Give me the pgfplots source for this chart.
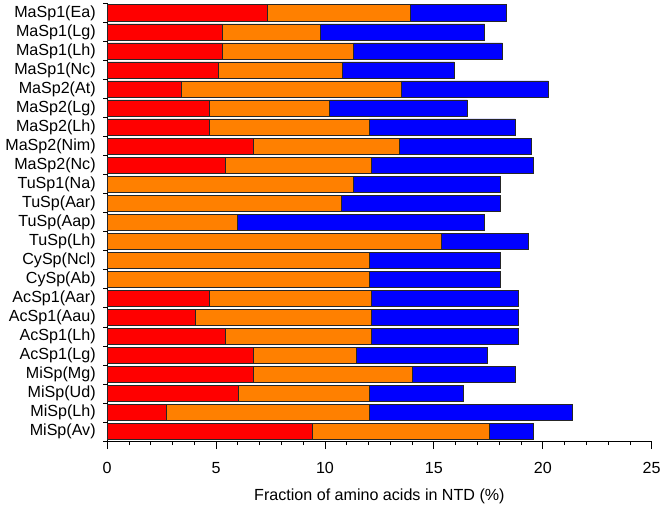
\documentclass[border=0pt]{standalone}
\usepackage{fontspec}
\setmainfont{Liberation Sans}
\usepackage{pgfplots}
\pgfplotsset{compat=1.18}
\usepackage{pgfplotstable}
\definecolor{cred}{HTML}{FF0000}
\definecolor{corange}{HTML}{FF8000}
\definecolor{cblue}{HTML}{0000FF}
\pgfplotstableread{
y r o b
0 9.44 8.09 2.02
1 2.72 9.30 9.32
2 6.03 5.99 4.31
3 6.72 7.30 4.72
4 6.72 4.70 6.03
5 5.43 6.68 6.75
6 4.03 8.08 6.75
7 4.70 7.41 6.75
8 0 12.02 6.03
9 0 12.02 6.03
10 0 15.33 4.01
11 0 5.99 11.34
12 0 10.73 7.32
13 0 11.31 6.74
14 5.43 6.68 7.44
15 6.72 6.69 6.04
16 4.70 7.32 6.72
17 4.70 5.51 6.33
18 3.41 10.09 6.76
19 5.12 5.69 5.12
20 5.30 6.01 6.83
21 5.30 4.50 7.53
22 7.34 6.57 4.43
}\data
\begin{document}
\fontsize{16.3}{19}\selectfont
\begin{tikzpicture}
\begin{axis}[
  width=551.7pt, height=443.5pt, scale only axis,
  xbar stacked, bar width=0.85,
  xmin=0, xmax=25, ymin=-0.5, ymax=22.5,
  axis x line*=bottom, axis y line*=left,
  axis line style={line width=0.8pt},
  xtick={0,5,...,25}, minor x tick num=4,
  ytick={0,...,22},
  yticklabels={MiSp(Av),MiSp(Lh),MiSp(Ud),MiSp(Mg),AcSp1(Lg),AcSp1(Lh),AcSp1(Aau),AcSp1(Aar),CySp(Ab),CySp(Ncl),TuSp(Lh),TuSp(Aap),TuSp(Aar),TuSp1(Na),MaSp2(Nc),MaSp2(Nim),MaSp2(Lh),MaSp2(Lg),MaSp2(At),MaSp1(Nc),MaSp1(Lh),MaSp1(Lg),MaSp1(Ea)},
  minor ytick={-0.5,0.5,...,22.5},
  tick align=outside,
  major tick length=8pt, minor tick length=4pt,
  every tick/.style={black, line width=0.8pt},
  major y tick style={draw=none},
  yticklabel style={xshift=2pt},
  xticklabel style={yshift=-8pt},
  /pgf/number format/assume math mode=true,
  xlabel={Fraction of amino acids in NTD (\%)},
  xlabel style={yshift=-4pt},
  every axis plot/.append style={draw=black!85, line width=0.6pt},
]
\addplot[fill=cred, draw=black!85] table[x=r, y=y] {\data};
\addplot[fill=corange, draw=black!85] table[x=o, y=y] {\data};
\addplot[fill=cblue, draw=black!85] table[x=b, y=y] {\data};
\end{axis}
\end{tikzpicture}
\end{document}
